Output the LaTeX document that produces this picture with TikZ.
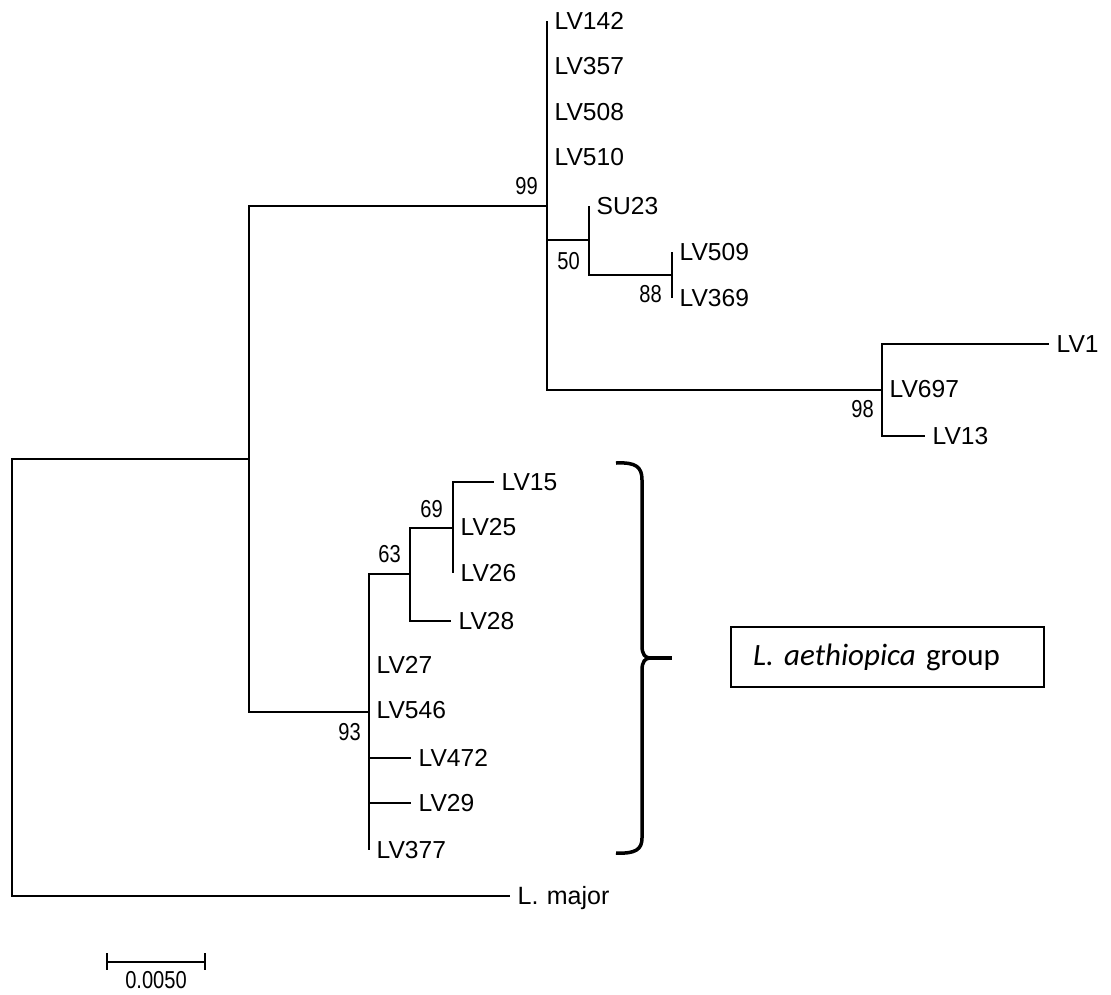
\documentclass[tikz,border=0pt]{standalone}
\usepackage{fontspec}
\setmainfont{Liberation Sans}
\newfontfamily\narrowfont[FakeStretch=0.82]{Liberation Sans}
\newfontfamily\boxfont{Carlito}
\usetikzlibrary{positioning}

\tikzset{
  branch/.style={line width=1.9pt},
  leaf/.style={anchor=west, inner xsep=7.5pt, inner ysep=0pt, text height=17.5pt, text depth=0pt, font=\fontsize{24.6}{25}\selectfont},
  boot/.style={inner sep=0pt, text height=17.5pt, text depth=0pt, font=\narrowfont\fontsize{24.5}{25}\selectfont},
  grpbox/.style={draw, line width=1.5pt, minimum height=60pt, text width=269pt, inner xsep=22pt, align=left, font=\boxfont\fontsize{31}{31}\selectfont},
  bracestyle/.style={line width=3.5pt}
}

\begin{document}
\begin{tikzpicture}[x=1pt, y=-1pt]
        \useasboundingbox (0,0) rectangle (1111,994);

        % Belso csomopontok
        \coordinate (root) at (12,680);
        \coordinate (n2) at (249,459);
        \coordinate (n99) at (547,206);
        \coordinate (n50) at (589,240);
        \coordinate (n88) at (672,275);
        \coordinate (n98) at (882,390);
        \coordinate (n93) at (369,712);
        \coordinate (n63) at (410,574);
        \coordinate (n69) at (453,528);

        % Levelek (izolatumok)
        \node[leaf] (lv142) at (547,21) {LV142};
        \node[leaf] (lv357) at (547,66) {LV357};
        \node[leaf] (lv508) at (547,112) {LV508};
        \node[leaf] (lv510) at (547,157) {LV510};
        \node[leaf] (su23) at (589,206) {SU23};
        \node[leaf] (lv509) at (672,252) {LV509};
        \node[leaf] (lv369) at (672,298) {LV369};
        \node[leaf] (lv1) at (1049,344) {LV1};
        \node[leaf] (lv697) at (882,389) {LV697};
        \node[leaf] (lv13) at (925,436) {LV13};
        \node[leaf] (lv15) at (494,482) {LV15};
        \node[leaf] (lv25) at (453,527) {LV25};
        \node[leaf] (lv26) at (453,573) {LV26};
        \node[leaf] (lv28) at (451,621) {LV28};
        \node[leaf] (lv27) at (369,665) {LV27};
        \node[leaf] (lv546) at (369,710) {LV546};
        \node[leaf] (lv472) at (411,758) {LV472};
        \node[leaf] (lv29) at (411,803) {LV29};
        \node[leaf] (lv377) at (369,850) {LV377};
        \node[leaf, font=\fontsize{25}{25}\selectfont] (lmaj) at (510,896) {L.\,\,major};

        % Agak
        \draw[branch] (root) |- (n2);
        \draw[branch] (root) |- (lmaj.west);
        \draw[branch] (n2) |- (n99);
        \draw[branch] (n2) |- (n93);
        \draw[branch] (n99) |- (lv142.west);
        \draw[branch] (n99) |- (n50);
        \draw[branch] (n99) |- (n98);
        \draw[branch] (n50) |- (su23.west);
        \draw[branch] (n50) |- (n88);
        \draw[branch] (n88) |- (lv509.west);
        \draw[branch] (n88) |- (lv369.west);
        \draw[branch] (n98) |- (lv1.west);
        \draw[branch] (n98) |- (lv697.west);
        \draw[branch] (n98) |- (lv13.west);
        \draw[branch] (n93) |- (n63);
        \draw[branch] (n93) |- (lv377.west);
        \draw[branch] (n93) |- (lv472.west);
        \draw[branch] (n93) |- (lv29.west);
        \draw[branch] (n63) |- (n69);
        \draw[branch] (n63) |- (lv28.west);
        \draw[branch] (n69) |- (lv15.west);
        \draw[branch] (n69) |- (lv26.west);

        % Bootstrap ertekek
        \node[boot, above left=11pt and 9pt of n99] (b99) {99};
        \node[boot, below left=12pt and 9pt of n50] (b50) {50};
        \node[boot, below left=10pt and 10pt of n88] (b88) {88};
        \node[boot, below left=10pt and 8pt of n98] (b98) {98};
        \node[boot, below left=11pt and 8pt of n93] (b93) {93};
        \node[boot, above left=11pt and 9pt of n63] (b63) {63};
        \node[boot, above left=10pt and 10pt of n69] (b69) {69};

        % Skala
        \coordinate (sbl) at (107,962);
        \coordinate (sbr) at (205,962);
        \draw[branch] (sbl) -- node[boot, below=9.5pt, text height=16.5pt] (sblabel) {0.0050} (sbr);
        \draw[branch] ([yshift=9pt]sbl) -- ([yshift=-8pt]sbl);
        \draw[branch] ([yshift=9pt]sbr) -- ([yshift=-8pt]sbr);

        % Kapcsos zarojel es csoport
        \draw[bracestyle] (616,463) .. controls (636,462) and (642,467) .. (642,480) -- (642,646)
            .. controls (642,654) and (645,658) .. (650,658)
            .. controls (645,658) and (642,662) .. (642,670) -- (642,838)
            .. controls (642,849) and (636,854) .. (616,853);
        \draw[bracestyle] (645,658) -- (672,658);
        \node[grpbox] (grp) at (887.5,657) {\textit{L. aethiopica} group};

    \end{tikzpicture}
\end{document}
